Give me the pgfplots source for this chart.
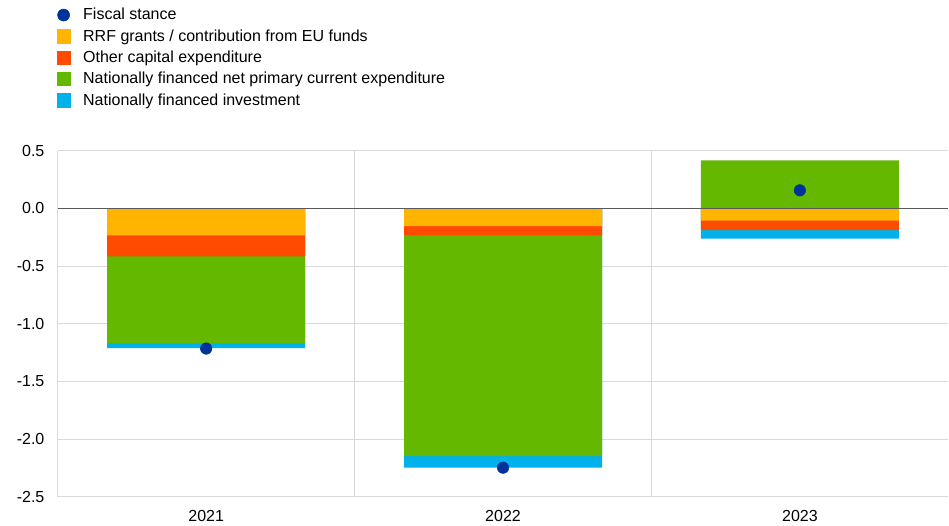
\documentclass[border=0pt]{standalone}
\usepackage{pgfplots}
\pgfplotsset{compat=1.18}
\usepackage{fontspec}
\setmainfont{Liberation Sans}
\definecolor{ecbblue}{HTML}{003299}
\definecolor{ecbyellow}{HTML}{FFB400}
\definecolor{ecbred}{HTML}{FF4B00}
\definecolor{ecbgreen}{HTML}{65B800}
\definecolor{ecbcyan}{HTML}{00B1EA}
\definecolor{gridgray}{HTML}{D9D9D9}
\begin{document}
\begin{tikzpicture}
\begin{axis}[
    name=ax,
    scale only axis,
    width=668pt, height=259.7pt,
    xmin=-0.5, xmax=2.5,
    ymin=-2.5, ymax=0.5,
    xtick={0,1,2},
    xticklabels={2021,2022,2023},
    ytick={-2.5,-2,-1.5,-1,-0.5,0,0.5},
    /pgf/number format/fixed,
    /pgf/number format/fixed zerofill,
    /pgf/number format/precision=1,
    /pgf/number format/assume math mode=true,
    extra x ticks={-0.5,0.5,1.5},
    extra x tick labels={},
    extra x tick style={grid=major, major grid style={gridgray, line width=0.8pt}},
    ymajorgrids,
    major grid style={gridgray, line width=0.8pt},
    axis line style={draw=none},
    tick style={draw=none},
    tick label style={font=\fontsize{12}{14}\selectfont},
    yticklabel style={xshift=-6.5pt},
    xticklabel style={yshift=-2pt},
    ybar, bar shift=0pt, bar width=0.667,
    clip=false,
    legend style={draw=none, fill=none, at={(0,1)}, anchor=north west,
        xshift=-1pt, yshift=107pt, inner sep=0pt,
        row sep=5.6pt,
        font=\fontsize{12}{14}\selectfont,
        nodes={inner xsep=9.5pt, inner ysep=0pt}},
    legend cell align=left,
]
\addlegendimage{only marks, mark=*, mark size=4.5pt, ecbblue, legend image code/.code={\fill[ecbblue] (5pt,0pt) circle (4.5pt);}}
\addlegendentry{Fiscal stance}
\addlegendimage{legend image code/.code={\fill[ecbyellow] (0pt,-5pt) rectangle (10pt,5pt);}}
\addlegendentry{RRF grants / contribution from EU funds}
\addlegendimage{legend image code/.code={\fill[ecbred] (0pt,-5pt) rectangle (10pt,5pt);}}
\addlegendentry{Other capital expenditure}
\addlegendimage{legend image code/.code={\fill[ecbgreen] (0pt,-5pt) rectangle (10pt,5pt);}}
\addlegendentry{Nationally financed net primary current expenditure}
\addlegendimage{legend image code/.code={\fill[ecbcyan] (0pt,-5pt) rectangle (10pt,5pt);}}
\addlegendentry{Nationally financed investment}
% bars drawn from 0 to the lower (or upper) edge of each stacked segment
\addplot[forget plot, fill=ecbcyan, draw=none] coordinates {(0,-1.21) (1,-2.247) (2,-0.263)};
\addplot[forget plot, fill=ecbgreen, draw=none] coordinates {(0,-1.17) (1,-2.146) (2,0.416)};
\addplot[forget plot, fill=ecbred, draw=none] coordinates {(0,-0.417) (1,-0.235) (2,-0.188)};
\addplot[forget plot, fill=ecbyellow, draw=none] coordinates {(0,-0.235) (1,-0.154) (2,-0.107)};
\draw[black!65, line width=1pt] (axis cs:-0.5,0) -- (axis cs:2.5,0);
\addplot[forget plot, only marks, mark=*, mark size=4.3pt, ecbblue] coordinates {(0,-1.215) (1,-2.247) (2,0.156)};
\end{axis}
\path ([xshift=-43.3pt,yshift=-21.75pt]ax.south west) rectangle ([yshift=113pt]ax.north east);
\end{tikzpicture}
\end{document}
